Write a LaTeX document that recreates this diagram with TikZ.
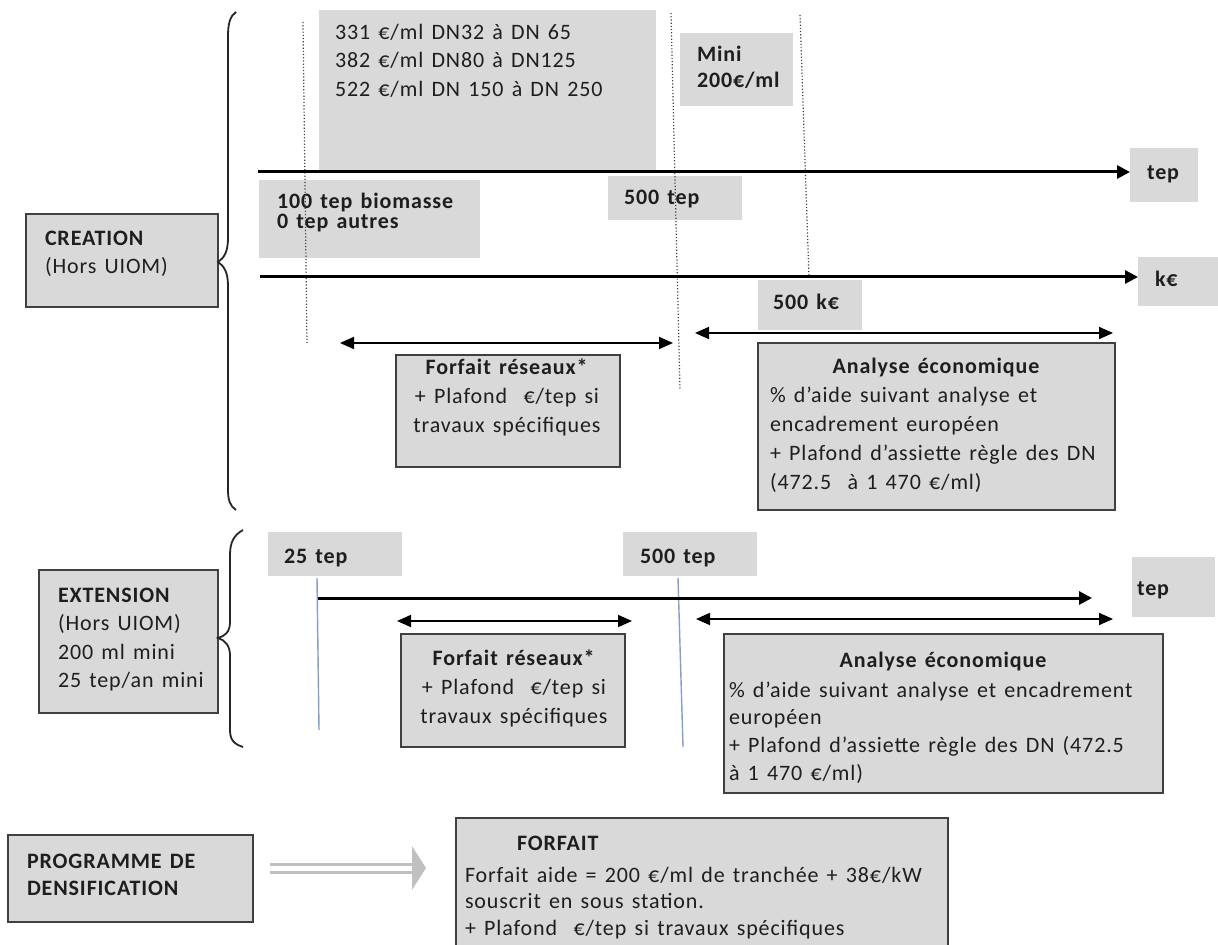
\documentclass[tikz,border=0pt]{standalone}
\usepackage{fontspec}
\setmainfont{Carlito}[LetterSpace=4, WordSpace=1.4]
\usetikzlibrary{arrows.meta}
\definecolor{boxgrey}{RGB}{217,217,217}
\definecolor{boxline}{RGB}{64,64,64}
\definecolor{bluel}{RGB}{130,160,200}
\definecolor{hollow}{RGB}{192,192,192}
\definecolor{ink}{RGB}{30,30,30}
\newcommand\lnsl[1]{\vtop{\lineskiplimit=-100pt\relax\halign{##\hfil\cr#1\crcr}}}
\newcommand\lnsc[1]{\vtop{\lineskiplimit=-100pt\relax\halign{\hfil##\hfil\cr#1\crcr}}}
\newcommand\gbox[6]{\node[#2,minimum width={(#5-#3)*0.5pt},minimum height={(#6-#4)*0.5pt}] (#1) at (#3,#4) {};}
\newcommand\fs[1]{\fontsize{11}{#1}\selectfont}
\begin{document}
\begin{tikzpicture}[x=0.5pt,y=-0.5pt,
  box/.style={fill=boxgrey, draw=boxline, line width=1pt, inner sep=0, outer sep=0, anchor=north west},
  flat/.style={fill=boxgrey, draw=none, inner sep=0, outer sep=0, anchor=north west},
  txt/.style={inner sep=0, outer sep=0, anchor=base west, text=ink},
  ctxt/.style={inner sep=0, outer sep=0, anchor=base, text=ink},
  axis/.style={line width=1.5pt, -{Triangle[length=6.5pt,width=6.5pt]}},
  dblarr/.style={line width=0.9pt, {Triangle[length=7pt,width=6pt]}-{Triangle[length=7pt,width=6pt]}},
  dotline/.style={densely dotted, line width=0.6pt, draw=black!75},
  blueline/.style={line width=0.7pt, draw=bluel},
  bracel/.style={line width=0.9pt, draw=black!85}
]
\useasboundingbox (0,0) rectangle (1218,945);

% ---------- boxes ----------
\gbox{creation}{box}{26}{214}{218}{307}
\gbox{b331}{flat}{319}{10}{656}{170}
\gbox{bmini}{flat}{680}{33}{793}{106}
\gbox{btep1}{flat}{1130}{148}{1198}{202}
\gbox{b100}{flat}{259}{180}{480}{258}
\gbox{b500tep}{flat}{608}{176}{742}{220}
\gbox{bke}{flat}{1138}{257}{1218}{306}
\gbox{b500ke}{flat}{758}{280}{862}{330}
\gbox{forfait1}{box}{396}{355}{620}{467}
\gbox{analyse1}{box}{758}{343}{1115}{510}
\gbox{extension}{box}{39}{570}{218}{713}
\gbox{b25}{flat}{268}{532}{402}{576}
\gbox{b500tep2}{flat}{623}{532}{757}{576}
\gbox{btep2}{flat}{1132}{557}{1215}{617}
\gbox{forfait2}{box}{401}{634}{625}{747}
\gbox{analyse2}{box}{724}{634}{1163}{793}
\gbox{programme}{box}{8}{835}{253}{922}
\gbox{forfait3}{box}{456}{818}{948}{960}

% ---------- texts ----------
\node[txt, font=\fs{14pt}] (tcreation) at (45,246) {\lnsl{\textbf{CREATION}\cr (Hors UIOM)}};
\node[txt, font=\fs{14.25pt}] (t331) at (335,39.5) {\lnsl{331 €/ml DN32 à DN 65\cr 382 €/ml DN80 à DN125\cr 522 €/ml DN 150 à DN 250}};
\node[txt, font=\fs{13pt}\bfseries] (tmini) at (697,61.5) {\lnsl{Mini\cr 200€/ml}};
\node[txt, font=\fs{13pt}\bfseries] (ttep1) at (1147,180) {tep};
\node[txt, font=\fs{10pt}\bfseries] (t100) at (277,209) {\lnsl{100 tep biomasse\cr 0 tep autres}};
\node[txt, font=\fs{13pt}\bfseries] (t500tep) at (624,205) {500 tep};
\node[txt, font=\fs{13pt}\bfseries] (tke) at (1155,287) {k€};
\node[txt, font=\fs{13pt}\bfseries] (t500ke) at (773,310) {500 k€};
\node[ctxt, font=\fs{14.5pt}] (tforfait1) at (507,375) {\lnsc{\textbf{Forfait réseaux*}\cr + Plafond~ €/tep si\cr travaux spécifiques}};
\node[ctxt, font=\fs{14pt}\bfseries] (tanalyse1h) at (936,374) {Analyse économique};
\node[txt, font=\fs{14.4pt}] (tanalyse1) at (770,403) {\lnsl{\% d’aide suivant analyse et\cr encadrement européen\cr + Plafond d’assiette règle des DN\cr (472.5~ à 1 470 €/ml)}};

\node[txt, font=\fs{14.3pt}] (textension) at (58,602) {\lnsl{\textbf{EXTENSION}\cr (Hors UIOM)\cr 200 ml mini\cr 25 tep/an mini}};
\node[txt, font=\fs{13pt}\bfseries] (t25) at (284,563) {25 tep};
\node[txt, font=\fs{13pt}\bfseries] (t500tep2) at (640,563) {500 tep};
\node[txt, font=\fs{13pt}\bfseries] (ttep2) at (1137,595) {tep};
\node[ctxt, font=\fs{14.5pt}] (tforfait2) at (514,665) {\lnsc{\textbf{Forfait réseaux*}\cr + Plafond~ €/tep si\cr travaux spécifiques}};
\node[ctxt, font=\fs{14pt}\bfseries] (tanalyse2h) at (943,667) {Analyse économique};
\node[txt, font=\fs{13.9pt}] (tanalyse2) at (729,697) {\lnsl{\% d’aide suivant analyse et encadrement\cr européen\cr + Plafond d’assiette règle des DN (472.5\cr à 1 470 €/ml)}};

\node[txt, font=\fs{13.5pt}\bfseries] (tprogramme) at (27,868) {\lnsl{PROGRAMME DE\cr DENSIFICATION}};
\node[txt, font=\fs{13pt}\bfseries] (tforfait3h) at (517,850) {FORFAIT};
\node[txt, font=\fs{13.25pt}] (tforfait3) at (465,882) {\lnsl{Forfait aide = 200 €/ml de tranchée + 38€/kW\cr souscrit en sous station.\cr + Plafond~ €/tep si travaux spécifiques}};

% ---------- braces ----------
\draw[bracel] (236,12) .. controls (230,16) and (228,24) .. (228,36) -- (228,238)
  .. controls (228,252) and (224,258) .. (218,262)
  .. controls (224,266) and (228,272) .. (228,286) -- (228,490)
  .. controls (228,500) and (230,506) .. (236,510);
\draw[bracel] (243,530) .. controls (234,535) and (230,542) .. (230,555) -- (230,622)
  .. controls (230,632) and (225,636) .. (218,638)
  .. controls (225,640) and (230,646) .. (230,655) -- (230,730)
  .. controls (230,740) and (234,744) .. (243,747);

% ---------- dotted and blue markers ----------
\coordinate (d1a) at (303,22);  \coordinate (d1b) at (307,345);
\coordinate (d2a) at (671,13);  \coordinate (d2b) at (680,390);
\coordinate (d3a) at (800,15);  \coordinate (d3b) at (809,278);
\draw[dotline] (d1a) -- (d1b);
\draw[dotline] (d2a) -- (d2b);
\draw[dotline] (d3a) -- (d3b);
\coordinate (v1a) at (317,578); \coordinate (v1b) at (319,730);
\coordinate (v2a) at (678,578); \coordinate (v2b) at (683,747);
\draw[blueline] (v1a) -- (v1b);
\draw[blueline] (v2a) -- (v2b);

% ---------- axes ----------
\coordinate (ax1) at (258,172);
\coordinate (ax2) at (260,277);
\coordinate (ax3) at (318,598);
\coordinate (ax3e) at (1092,598);
\draw[axis] (ax1) -- (ax1 -| btep1.west);
\draw[axis] (ax2) -- (ax2 -| bke.west);
\draw[axis] (ax3) -- (ax3e);

% ---------- range arrows ----------
\coordinate (r1a) at (340,343);  \coordinate (r1b) at (673,343);
\coordinate (r2a) at (695,333);  \coordinate (r2b) at (1113,333);
\coordinate (r3a) at (397,621);  \coordinate (r3b) at (632,621);
\coordinate (r4a) at (696,619);  \coordinate (r4b) at (1113,619);
\draw[dblarr] (r1a) -- (r1b);
\draw[dblarr] (r2a) -- (r2b);
\draw[dblarr] (r3a) -- (r3b);
\draw[dblarr] (r4a) -- (r4b);

% ---------- hollow arrow ----------
\coordinate (h1) at (270,868);
\coordinate (h2) at (412,868);
\coordinate (h3) at (426,868);
\draw[draw=hollow, line width=1.5pt, double=white, double distance=2.5pt] (h1) -- (h2);
\fill[hollow] ([yshift=-11]h2) -- (h3) -- ([yshift=11]h2) -- cycle;
\end{tikzpicture}
\end{document}
